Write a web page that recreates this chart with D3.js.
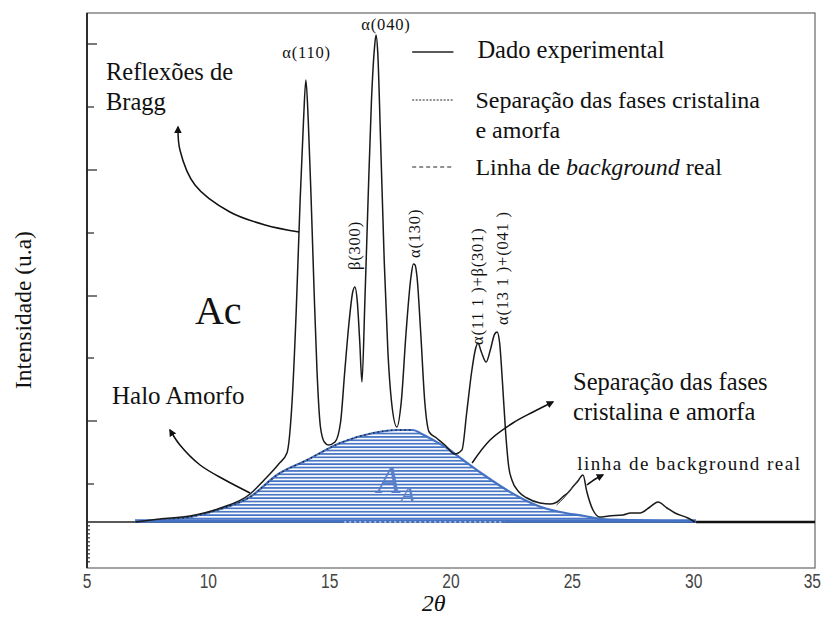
<!DOCTYPE html>
<html lang="pt">
<head>
  <meta charset="UTF-8" />
  <title>Difratograma - Ac e halo amorfo</title>
  <script src="https://d3js.org/d3.v7.min.js"></script>
  <style>
    body { margin: 0; background: #fff; }
    svg { display: block; }
    .serif { font-family: "Liberation Serif", "Times New Roman", serif; fill: #111; }
    .tick-label { font-family: "Liberation Sans Narrow", "Arial Narrow", "Liberation Sans", sans-serif; font-size: 19.5px; fill: #444; }
  </style>
</head>
<body>
<svg id="chart" width="822" height="617"></svg>
<script>
  // x axis ticks (2θ)
  const xTicks = [5, 10, 15, 20, 25, 30, 35];
  // unlabelled intensity ticks (u.a)
  const yTicks = [38, 101, 164, 226, 289, 352, 415, 478];

  // experimental diffractogram: [2θ, intensity]
  const expTheta = [7.0, 8.0, 9.24, 10.5, 11.72, 12.3, 12.9, 13.24, 13.45, 13.62, 13.78, 13.92, 14.02, 14.12, 14.24, 14.36, 14.48, 14.62, 14.78, 14.95, 15.22, 15.45, 15.62, 15.80, 15.95, 16.04, 16.14, 16.24, 16.33, 16.45, 16.58, 16.72, 16.85, 16.91, 16.98, 17.10, 17.25, 17.40, 17.55, 17.77, 17.95, 18.15, 18.35, 18.45, 18.52, 18.60, 18.75, 18.92, 19.10, 19.40, 19.75, 20.15, 20.45, 20.65, 20.85, 21.00, 21.11, 21.25, 21.45, 21.62, 21.80, 21.90, 22.00, 22.12, 22.25, 22.38, 22.51, 22.8, 23.13, 23.67, 24.10, 24.37, 24.6, 24.85, 25.05, 25.2, 25.44, 25.6, 25.85, 26.14, 26.5, 27.09, 27.4, 27.79, 28.2, 28.53, 28.9, 29.23, 29.76, 30.05];
  const expInt = [0, 3, 6, 14, 28, 42, 58, 69, 120, 210, 320, 400, 442, 400, 320, 230, 150, 95, 80, 77, 80, 100, 150, 200, 230, 235, 220, 180, 140, 220, 320, 420, 475, 487, 470, 380, 260, 170, 120, 95, 120, 190, 245, 258, 257, 245, 190, 120, 90, 84, 77, 68, 72, 110, 150, 172, 179, 170, 160, 172, 188, 190, 180, 140, 90, 55, 42, 30, 24, 19, 18, 20, 25, 30, 36, 40, 47, 30, 12, 5, 6, 7, 9, 9, 15, 20, 14, 9, 4, 0];

  // amorphous halo (separation of crystalline / amorphous phases)
  const haloTheta = [6.98, 8.0, 9.24, 10.5, 11.72, 12.83, 14.07, 15.43, 16.79, 17.8, 18.19, 18.43, 18.8, 19.26, 19.83, 20.5, 21.3, 22.1, 22.8, 23.6, 24.5, 25.5, 26.2, 27.5, 30.1];
  const haloInt = [0, 2, 5, 13, 25, 47, 62, 79, 89, 92, 92, 92, 88, 82, 74, 62, 48, 35, 25, 16, 10, 6, 3, 2, 0];

  // short "background real" trace under the 25° reflection
  const bgTheta = [24.35, 24.65, 24.95, 25.25];
  const bgInt = [17, 24, 33, 42];

  // peak labels
  const peakNames = ["α(110)", "α(040)", "β(300)", "α(130)", "α(11 1 )+β(301)", "α(13 1 )+(041 )"];
  const peakTheta = [14.05, 17.32, 16.25, 18.72, 21.32, 22.35];
  const peakLabelInt = [464, 492, 252, 264, 177, 197];
  const peakRotated = [false, false, true, true, true, true];

  const legendNames = ["Dado experimental", "Separação das fases cristalina", "Linha de background real"];

  const svg = d3.select("#chart");
  const x = d3.scaleLinear().domain([5, 35]).range([87, 815]);
  const y = d3.scaleLinear().domain([-46, 509]).range([568, 13]);

  const blue = "#4472c4";

  // stripe pattern for the amorphous area
  const defs = svg.append("defs");
  const pat = defs.append("pattern")
    .attr("id", "stripes")
    .attr("patternUnits", "userSpaceOnUse")
    .attr("width", 8).attr("height", 3.4);
  pat.append("rect").attr("width", 8).attr("height", 3.4).attr("fill", "#fff");
  pat.append("rect").attr("y", 0.9).attr("width", 8).attr("height", 1.7).attr("fill", blue);

  defs.append("marker")
    .attr("id", "arrow")
    .attr("viewBox", "0 0 10 10")
    .attr("refX", 8).attr("refY", 5)
    .attr("markerWidth", 5).attr("markerHeight", 5)
    .attr("orient", "auto-start-reverse")
    .append("path").attr("d", "M0,0 L10,5 L0,10 z").attr("fill", "#111");

  // frame
  svg.append("rect")
    .attr("x", x(5)).attr("y", y(509))
    .attr("width", x(35) - x(5)).attr("height", y(-46) - y(509))
    .attr("fill", "none").attr("stroke", "#666").attr("stroke-width", 1.2);
  svg.append("line")
    .attr("x1", x(5)).attr("x2", x(5)).attr("y1", y(509)).attr("y2", y(-46))
    .attr("stroke", "#111").attr("stroke-width", 1.6);

  // y ticks (inward)
  svg.append("g").selectAll("line").data(yTicks).join("line")
    .attr("x1", x(5)).attr("x2", (d, i) => x(5) + (i % 2 ? 10 : 7))
    .attr("y1", d => y(d)).attr("y2", d => y(d))
    .attr("stroke", "#222").attr("stroke-width", 1.2);

  // dotted marks on the axis below the baseline
  svg.append("line")
    .attr("x1", x(5) + 2).attr("x2", x(5) + 2).attr("y1", y(-3)).attr("y2", y(-43))
    .attr("stroke", "#222").attr("stroke-width", 1.5).attr("stroke-dasharray", "1.5,2.5");

  // x tick labels (narrow); the last one is kept inside the page
  svg.append("g").selectAll("text").data(xTicks).join("text")
    .attr("class", "tick-label")
    .attr("transform", (d, i) => i === xTicks.length - 1
      ? `translate(${x(d) + 6},588) scale(0.8,1)`
      : `translate(${x(d)},588) scale(0.8,1)`)
    .attr("text-anchor", (d, i) => i === xTicks.length - 1 ? "end" : "middle")
    .text(d => d);

  // axis titles
  svg.append("text").attr("class", "serif")
    .attr("x", x(19.28)).attr("y", 611)
    .attr("text-anchor", "middle")
    .attr("font-size", 24).attr("font-style", "italic")
    .text("2θ");
  svg.append("text").attr("class", "serif")
    .attr("transform", `translate(31,${y(212)}) rotate(-90)`)
    .attr("text-anchor", "middle")
    .attr("font-size", 23.5)
    .text("Intensidade (u.a)");

  // amorphous halo
  const haloData = haloTheta.map((t, i) => [t, haloInt[i]]);
  const area = d3.area().x(d => x(d[0])).y0(y(0)).y1(d => y(d[1])).curve(d3.curveMonotoneX);
  const haloLine = d3.line().x(d => x(d[0])).y(d => y(d[1])).curve(d3.curveMonotoneX);

  svg.append("path").datum(haloData)
    .attr("d", area).attr("fill", "url(#stripes)");
  svg.append("path").datum(haloData)
    .attr("d", haloLine).attr("fill", "none").attr("stroke", blue).attr("stroke-width", 2.2);
  // dotted separation line on top of the halo
  svg.append("path").datum(haloData.filter(d => d[0] >= 8 && d[0] <= 18.5))
    .attr("d", haloLine).attr("fill", "none")
    .attr("stroke", "#222").attr("stroke-width", 1.4).attr("stroke-dasharray", "1.5,3");

  // zero / background line
  svg.append("line")
    .attr("x1", x(5)).attr("x2", x(35)).attr("y1", y(0)).attr("y2", y(0))
    .attr("stroke", "#222").attr("stroke-width", 1.4);
  svg.append("line")
    .attr("x1", x(30.1)).attr("x2", x(35)).attr("y1", y(0)).attr("y2", y(0))
    .attr("stroke", "#111").attr("stroke-width", 2.6);
  svg.append("line")
    .attr("x1", x(6.98)).attr("x2", x(30.1)).attr("y1", y(0) - 1).attr("y2", y(0) - 1)
    .attr("stroke", blue).attr("stroke-width", 3.5);
  svg.append("line")
    .attr("x1", x(15.6)).attr("x2", x(22.2)).attr("y1", y(0)).attr("y2", y(0))
    .attr("stroke", "#fff").attr("stroke-width", 1.2).attr("stroke-dasharray", "2,3");

  // A_A label
  const aa = svg.append("text").attr("class", "serif")
    .attr("x", x(16.95)).attr("y", y(29))
    .attr("font-style", "italic").style("fill", "#5a7eca");
  aa.append("tspan").attr("font-size", 38).text("A");
  aa.append("tspan").attr("font-size", 24).attr("dy", 9).text("A");

  // experimental curve
  const expData = expTheta.map((t, i) => [t, expInt[i]]);
  const line = d3.line().x(d => x(d[0])).y(d => y(d[1])).curve(d3.curveMonotoneX);
  svg.append("path").datum(expData)
    .attr("d", line).attr("fill", "none")
    .attr("stroke", "#1a1a1a").attr("stroke-width", 1.5);
  svg.append("path").datum(bgTheta.map((t, i) => [t, bgInt[i]]))
    .attr("d", line).attr("fill", "none")
    .attr("stroke", "#333").attr("stroke-width", 1);

  // peak labels
  svg.append("g").selectAll("text").data(peakNames).join("text")
    .attr("class", "serif")
    .attr("font-size", 16.5)
    .attr("letter-spacing", 0.8)
    .attr("text-anchor", (d, i) => peakRotated[i] ? "start" : "middle")
    .attr("transform", (d, i) => peakRotated[i]
      ? `translate(${x(peakTheta[i])},${y(peakLabelInt[i])}) rotate(-90)`
      : `translate(${x(peakTheta[i])},${y(peakLabelInt[i])})`)
    .text(d => d);

  // annotation arrows (data coordinates)
  const arrows = [
    [[13.74, 290], [12.34, 297], [10.89, 310], [9.45, 337], [8.83, 372], [8.75, 395]],
    [[11.72, 29], [10.69, 42], [9.66, 57], [8.83, 77], [8.42, 92]],
    [[20.87, 59], [21.61, 82], [22.55, 99], [23.38, 110], [24.2, 120]],
    [[25.6, 37], [25.95, 43], [26.26, 47]]
  ];
  const arrowLine = d3.line().x(d => x(d[0])).y(d => y(d[1])).curve(d3.curveCatmullRom);
  svg.append("g").selectAll("path").data(arrows).join("path")
    .attr("d", arrowLine).attr("fill", "none")
    .attr("stroke", "#111").attr("stroke-width", 1.5)
    .attr("marker-end", "url(#arrow)");

  // annotation texts: [text, 2θ, intensity, size]
  const notes = [
    ["Reflexões de", 5.78, 442, 24.5],
    ["Bragg", 5.78, 412, 24.5],
    ["Ac", 9.45, 198, 40],
    ["Halo Amorfo", 6.03, 118, 25],
    ["Separação das fases", 25.03, 132, 24.5],
    ["cristalina e amorfa", 25.03, 102, 24.5]
  ];
  svg.append("g").selectAll("text").data(notes).join("text")
    .attr("class", "serif")
    .attr("x", d => x(d[1])).attr("y", d => y(d[2]))
    .attr("font-size", d => d[3])
    .text(d => d[0]);
  svg.append("text").attr("class", "serif")
    .attr("x", x(25.2)).attr("y", y(52))
    .attr("font-size", 19).attr("letter-spacing", 1.5)
    .text("linha de background real");

  // legend
  const lg = svg.append("g");
  const legendY = [y(470), y(422), y(355)];
  const legendDash = [null, "2,1.5", "4,3"];
  lg.selectAll("line").data(legendNames).join("line")
    .attr("x1", x(18.4)).attr("x2", x(20.1))
    .attr("y1", (d, i) => legendY[i]).attr("y2", (d, i) => legendY[i])
    .attr("stroke", "#222").attr("stroke-width", (d, i) => i === 0 ? 1.4 : 1)
    .attr("stroke-dasharray", (d, i) => legendDash[i]);
  lg.append("text").attr("class", "serif").attr("font-size", 24.5)
    .attr("x", x(20.1) + 24).attr("y", legendY[0] + 6).text(legendNames[0]);
  lg.append("text").attr("class", "serif").attr("font-size", 24)
    .attr("x", x(20.1) + 22).attr("y", legendY[1] + 8).text(legendNames[1]);
  lg.append("text").attr("class", "serif").attr("font-size", 24)
    .attr("x", x(20.1) + 22).attr("y", legendY[1] + 38).text("e amorfa");
  const t3 = lg.append("text").attr("class", "serif").attr("font-size", 24)
    .attr("x", x(20.1) + 22).attr("y", legendY[2] + 8);
  t3.append("tspan").text("Linha de ");
  t3.append("tspan").attr("font-style", "italic").text("background");
  t3.append("tspan").text(" real");
</script>
</body>
</html>
